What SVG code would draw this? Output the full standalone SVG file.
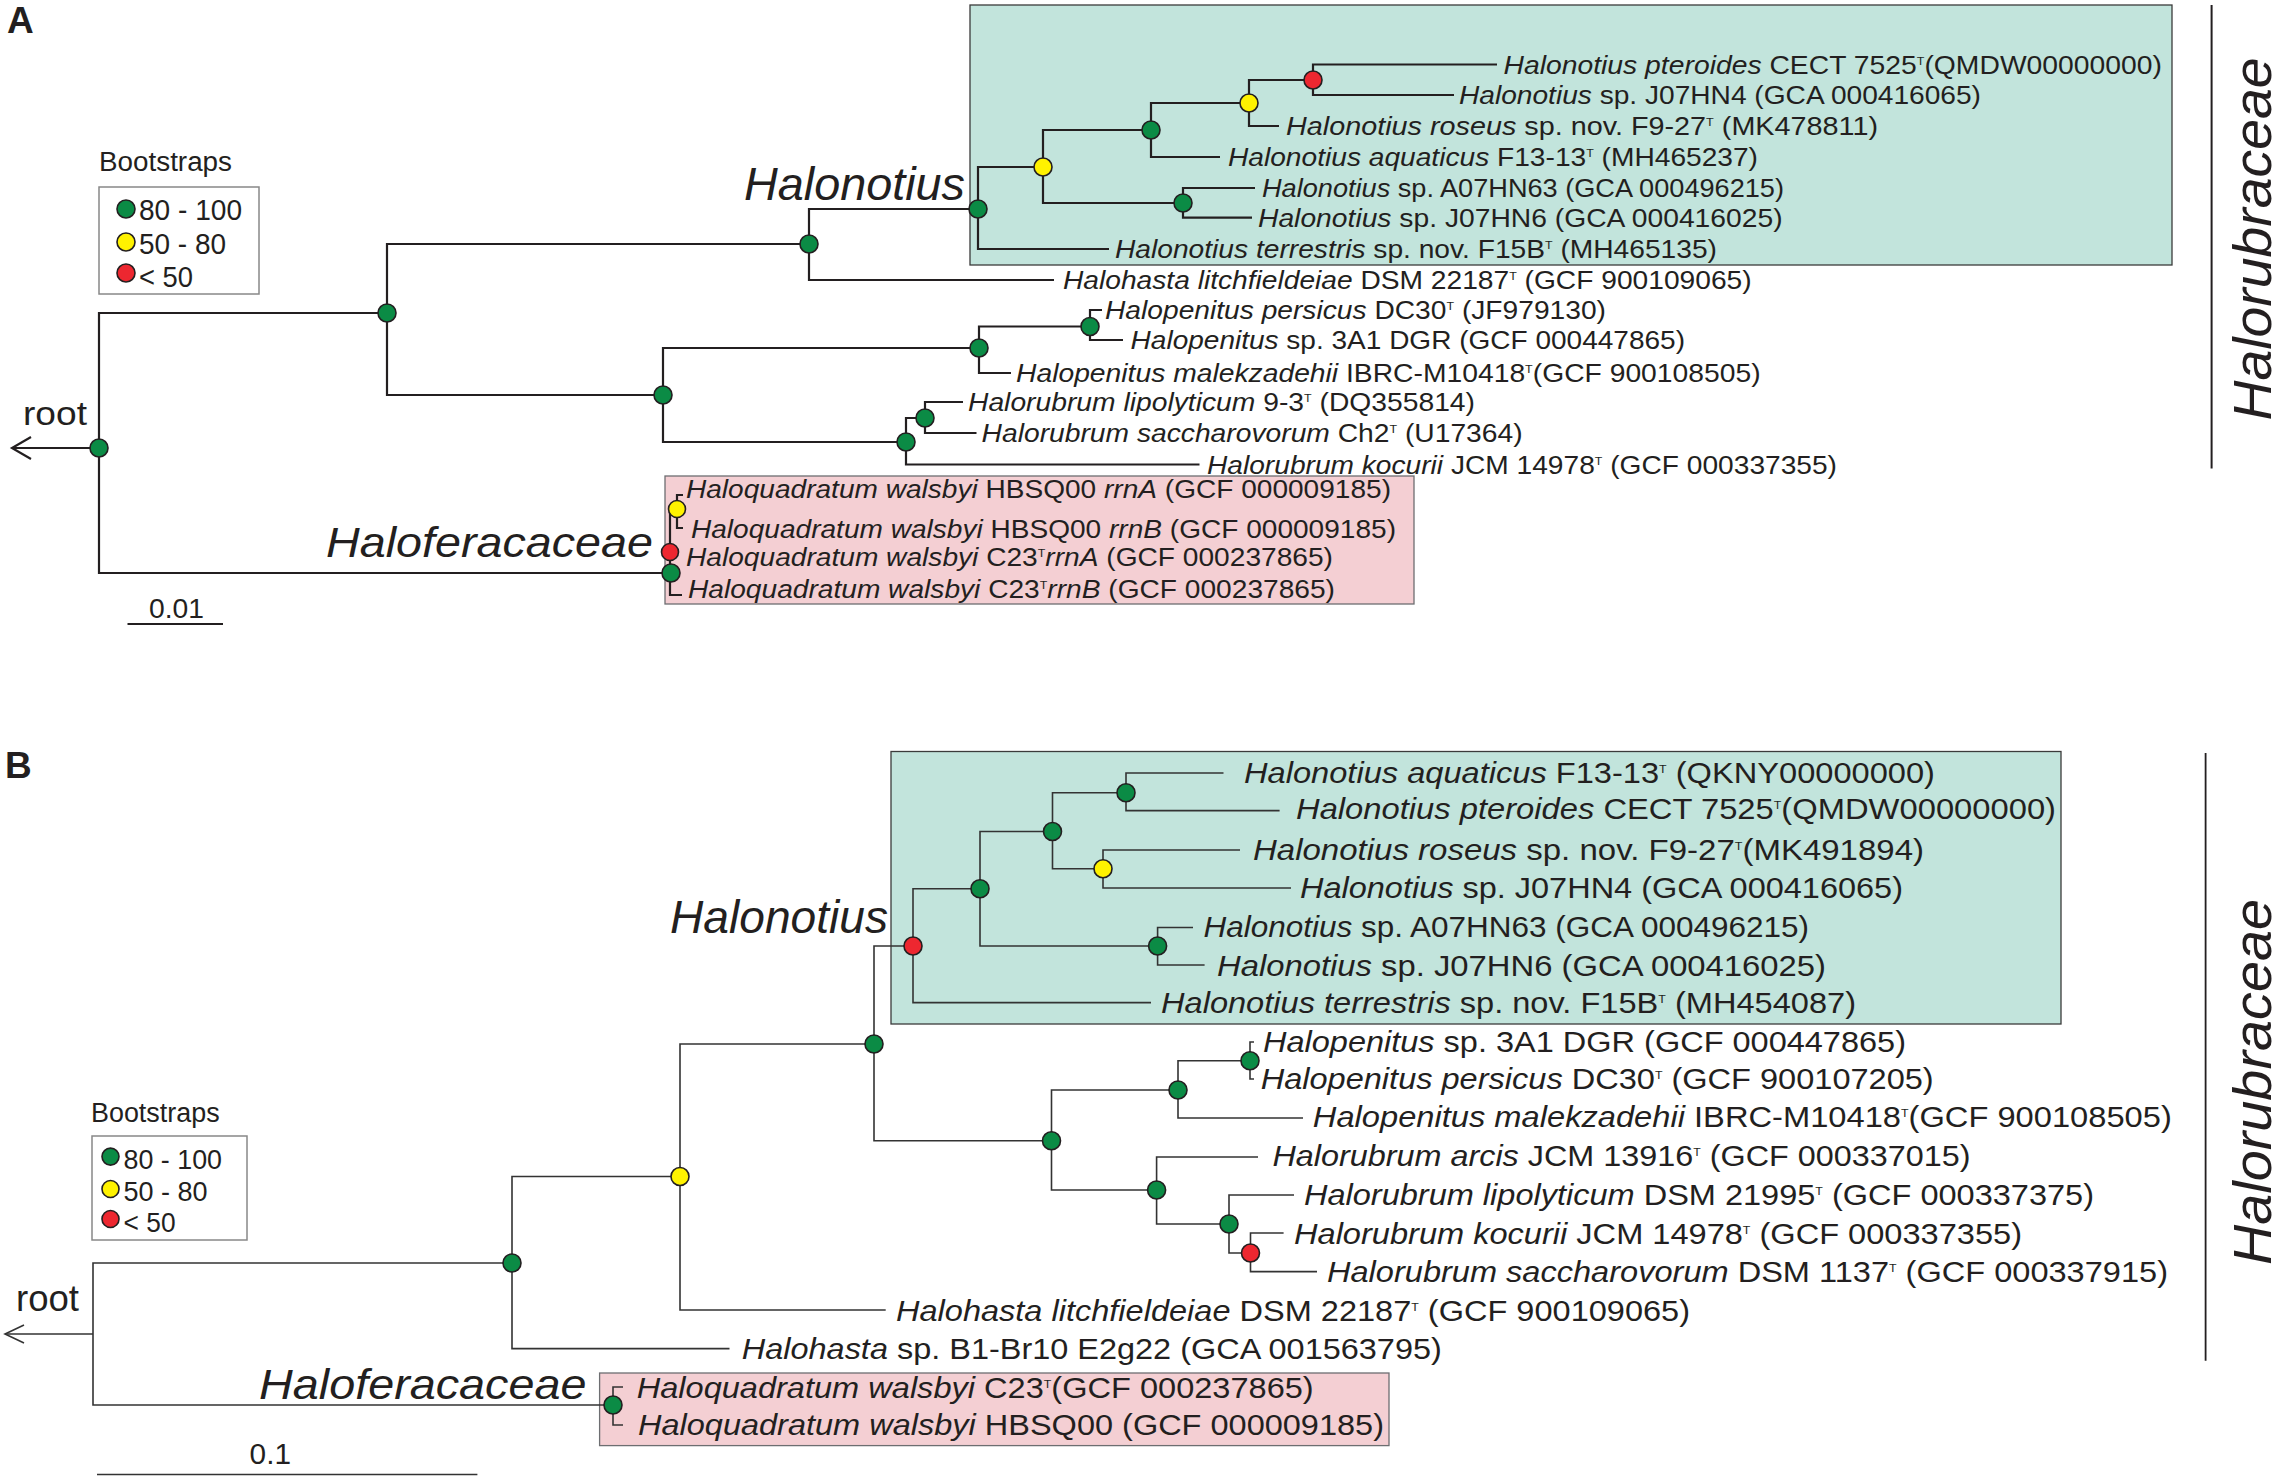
<svg xmlns="http://www.w3.org/2000/svg" width="2283" height="1480" viewBox="0 0 2283 1480">
<style>
.t{font-family:"Liberation Sans",Arial,sans-serif;fill:#231f20}
.la{font-size:25px}
.lb{font-size:29px}
.i{font-style:italic}
.s{font-size:11px}
.ea{fill:none;stroke:#231f20;stroke-width:2.2}
.eb{fill:none;stroke:#333;stroke-width:1.6}
.g{fill:#0b8b45;stroke:#231f20;stroke-width:1.6}
.y{fill:#fff200;stroke:#231f20;stroke-width:1.6}
.r{fill:#ed2730;stroke:#231f20;stroke-width:1.6}
.box{stroke-width:1.3}
</style>
<rect width="2283" height="1480" fill="#fff"/>

<!-- Panel A -->
<g id="panelA">
<text class="t" x="7" y="33" font-size="37" font-weight="bold">A</text>
<rect id="A-teal" class="box" x="970" y="5" width="1202" height="260" fill="#c2e4dc" stroke="#3b3b3b"/>
<rect id="A-pink" class="box" x="665" y="476" width="749" height="128" fill="#f4cfd3" stroke="#6d6e71"/>

<g id="A-legend">
<text class="t" x="99" y="171" font-size="27" textLength="133" lengthAdjust="spacingAndGlyphs">Bootstraps</text>
<rect x="99" y="187" width="160" height="107" fill="#fff" stroke="#888" stroke-width="1.5"/>
<circle class="g" cx="126" cy="209" r="9"/>
<circle class="y" cx="126" cy="242" r="9"/>
<circle class="r" cx="126" cy="273" r="9"/>
<text class="t" x="139" y="220" font-size="29" textLength="103" lengthAdjust="spacingAndGlyphs">80 - 100</text>
<text class="t" x="139" y="254" font-size="29" textLength="87" lengthAdjust="spacingAndGlyphs">50 - 80</text>
<text class="t" x="139" y="287" font-size="29" textLength="54" lengthAdjust="spacingAndGlyphs">&lt; 50</text>
</g>

<g id="A-edges">
<path class="ea" d="M12 448H99"/>
<path class="ea" d="M31 437L12 448L31 459"/>
<path class="ea" d="M387 313H99V573H671"/>
<path class="ea" d="M809 244H387V395H663"/>
<path class="ea" d="M978 209H809V280H1054"/>
<path class="ea" d="M1043 167H978V249H1109"/>
<path class="ea" d="M1151 130H1043V203H1183"/>
<path class="ea" d="M1249 103H1151V157H1220"/>
<path class="ea" d="M1313 80H1249V126H1279"/>
<path class="ea" d="M1497 64.5H1313V95H1454"/>
<path class="ea" d="M1255 188H1183V217.6H1252"/>
<path class="ea" d="M979 348H663V442H906"/>
<path class="ea" d="M1090 326.5H979V373H1011"/>
<path class="ea" d="M1102 310H1090V340H1123"/>
<path class="ea" d="M925 418H906V464.5H1199.5"/>
<path class="ea" d="M963 402H925V433H976.5"/>
<path class="ea" stroke-width="1.6" d="M677 509H670V595H682"/>
<path class="ea" stroke-width="1.6" d="M683 495H677V528H683"/>
<path class="ea" d="M127.5 624H223" stroke-width="2.6"/>
</g>

<g id="A-nodes">
<circle id="A-n-root" class="g" cx="99" cy="448" r="9"/>
<circle id="A-n1" class="g" cx="387" cy="313" r="9"/>
<circle id="A-n2" class="g" cx="809" cy="244" r="9"/>
<circle id="A-n3" class="g" cx="978" cy="209" r="9"/>
<circle id="A-n4" class="y" cx="1043" cy="167" r="9"/>
<circle id="A-n5" class="g" cx="1151" cy="130" r="9"/>
<circle id="A-n6" class="y" cx="1249" cy="103" r="9"/>
<circle id="A-n7" class="r" cx="1313" cy="80" r="9"/>
<circle id="A-n8" class="g" cx="1183" cy="203" r="9"/>
<circle id="A-n9" class="g" cx="663" cy="395" r="9"/>
<circle id="A-n10" class="g" cx="979" cy="348" r="9"/>
<circle id="A-n11" class="g" cx="1090" cy="326.5" r="9"/>
<circle id="A-n12" class="g" cx="906" cy="442" r="9"/>
<circle id="A-n13" class="g" cx="925" cy="418" r="9"/>
<circle id="A-n14" class="y" cx="677" cy="509" r="8.5"/>
<circle id="A-n15" class="r" cx="670" cy="552" r="8.5"/>
<circle id="A-n16" class="g" cx="671" cy="573" r="9"/>
</g>

<g id="A-labels">
<text class="t" x="23" y="425" font-size="34" textLength="64" lengthAdjust="spacingAndGlyphs">root</text>
<text class="t i" x="744" y="200" font-size="46" textLength="221" lengthAdjust="spacingAndGlyphs">Halonotius</text>
<text class="t i" x="326" y="557" font-size="43" textLength="327" lengthAdjust="spacingAndGlyphs">Haloferacaceae</text>
<text class="t" x="149" y="618" font-size="28" textLength="55" lengthAdjust="spacingAndGlyphs">0.01</text>
<path d="M2211.6 5V468.6" stroke="#231f20" stroke-width="2"/>
<text class="t i" transform="translate(2271 420.5) rotate(-90)" font-size="54" textLength="363" lengthAdjust="spacingAndGlyphs">Halorubraceae</text>

<text id="A-l1" class="t la" x="1503.5" y="73.5" textLength="658.5" lengthAdjust="spacingAndGlyphs"><tspan class="i">Halonotius pteroides</tspan> CECT 7525<tspan class="s" dy="-9">T</tspan><tspan dy="9">(QMDW00000000)</tspan></text>
<text id="A-l2" class="t la" x="1459" y="104" textLength="522" lengthAdjust="spacingAndGlyphs"><tspan class="i">Halonotius</tspan> sp. J07HN4 (GCA 000416065)</text>
<text id="A-l3" class="t la" x="1286" y="135" textLength="592" lengthAdjust="spacingAndGlyphs"><tspan class="i">Halonotius roseus</tspan> sp. nov. F9-27<tspan class="s" dy="-9">T</tspan><tspan dy="9"> (MK478811)</tspan></text>
<text id="A-l4" class="t la" x="1228" y="166" textLength="530" lengthAdjust="spacingAndGlyphs"><tspan class="i">Halonotius aquaticus</tspan> F13-13<tspan class="s" dy="-9">T</tspan><tspan dy="9"> (MH465237)</tspan></text>
<text id="A-l5" class="t la" x="1262" y="197" textLength="522" lengthAdjust="spacingAndGlyphs"><tspan class="i">Halonotius</tspan> sp. A07HN63 (GCA 000496215)</text>
<text id="A-l6" class="t la" x="1258" y="226.6" textLength="524.6" lengthAdjust="spacingAndGlyphs"><tspan class="i">Halonotius</tspan> sp. J07HN6 (GCA 000416025)</text>
<text id="A-l7" class="t la" x="1115" y="258" textLength="602" lengthAdjust="spacingAndGlyphs"><tspan class="i">Halonotius terrestris</tspan> sp. nov. F15B<tspan class="s" dy="-9">T</tspan><tspan dy="9"> (MH465135)</tspan></text>
<text id="A-l8" class="t la" x="1063" y="289" textLength="688.6" lengthAdjust="spacingAndGlyphs"><tspan class="i">Halohasta litchfieldeiae</tspan> DSM 22187<tspan class="s" dy="-9">T</tspan><tspan dy="9"> (GCF 900109065)</tspan></text>
<text id="A-l9" class="t la" x="1105" y="319" textLength="501" lengthAdjust="spacingAndGlyphs"><tspan class="i">Halopenitus persicus</tspan> DC30<tspan class="s" dy="-9">T</tspan><tspan dy="9"> (JF979130)</tspan></text>
<text id="A-l10" class="t la" x="1130.6" y="349" textLength="554.4" lengthAdjust="spacingAndGlyphs"><tspan class="i">Halopenitus</tspan> sp. 3A1 DGR (GCF 000447865)</text>
<text id="A-l11" class="t la" x="1016" y="382" textLength="744.6" lengthAdjust="spacingAndGlyphs"><tspan class="i">Halopenitus malekzadehii</tspan> IBRC-M10418<tspan class="s" dy="-9">T</tspan><tspan dy="9">(GCF 900108505)</tspan></text>
<text id="A-l12" class="t la" x="968" y="411" textLength="507" lengthAdjust="spacingAndGlyphs"><tspan class="i">Halorubrum lipolyticum</tspan> 9-3<tspan class="s" dy="-9">T</tspan><tspan dy="9"> (DQ355814)</tspan></text>
<text id="A-l13" class="t la" x="981.6" y="442" textLength="541" lengthAdjust="spacingAndGlyphs"><tspan class="i">Halorubrum saccharovorum</tspan> Ch2<tspan class="s" dy="-9">T</tspan><tspan dy="9"> (U17364)</tspan></text>
<text id="A-l14" class="t la" x="1207" y="473.5" textLength="630" lengthAdjust="spacingAndGlyphs"><tspan class="i">Halorubrum kocurii</tspan> JCM 14978<tspan class="s" dy="-9">T</tspan><tspan dy="9"> (GCF 000337355)</tspan></text>
<text id="A-l15" class="t la" x="686" y="498" textLength="705" lengthAdjust="spacingAndGlyphs"><tspan class="i">Haloquadratum walsbyi</tspan> HBSQ00 <tspan class="i">rrnA</tspan> (GCF 000009185)</text>
<text id="A-l16" class="t la" x="691" y="538" textLength="705" lengthAdjust="spacingAndGlyphs"><tspan class="i">Haloquadratum walsbyi</tspan> HBSQ00 <tspan class="i">rrnB</tspan> (GCF 000009185)</text>
<text id="A-l17" class="t la" x="686" y="566" textLength="647" lengthAdjust="spacingAndGlyphs"><tspan class="i">Haloquadratum walsbyi</tspan> C23<tspan class="s" dy="-9">T</tspan><tspan class="i" dy="9">rrnA</tspan> (GCF 000237865)</text>
<text id="A-l18" class="t la" x="688" y="598" textLength="647" lengthAdjust="spacingAndGlyphs"><tspan class="i">Haloquadratum walsbyi</tspan> C23<tspan class="s" dy="-9">T</tspan><tspan class="i" dy="9">rrnB</tspan> (GCF 000237865)</text>
</g>
</g>

<!-- Panel B -->
<g id="panelB">
<text class="t" x="5" y="778" font-size="37" font-weight="bold">B</text>
<rect id="B-teal" class="box" x="891" y="751.5" width="1170" height="272.5" fill="#c2e4dc" stroke="#3b3b3b"/>
<rect id="B-pink" class="box" x="599.6" y="1373" width="789.4" height="72.6" fill="#f4cfd3" stroke="#6d6e71"/>

<g id="B-legend">
<text class="t" x="91" y="1122" font-size="27" textLength="128.6" lengthAdjust="spacingAndGlyphs">Bootstraps</text>
<rect x="92" y="1136" width="155" height="104" fill="#fff" stroke="#888" stroke-width="1.5"/>
<circle class="g" cx="110.5" cy="1156.6" r="8.5"/>
<circle class="y" cx="110.5" cy="1189" r="8.5"/>
<circle class="r" cx="110.5" cy="1219" r="8.5"/>
<text class="t" x="123.6" y="1168.5" font-size="28" textLength="98.4" lengthAdjust="spacingAndGlyphs">80 - 100</text>
<text class="t" x="123.6" y="1201" font-size="28" textLength="84" lengthAdjust="spacingAndGlyphs">50 - 80</text>
<text class="t" x="123.6" y="1232" font-size="28" textLength="52" lengthAdjust="spacingAndGlyphs">&lt; 50</text>
</g>

<g id="B-edges">
<path class="eb" d="M5 1334H93"/>
<path class="eb" d="M24 1325L5 1334L24 1343"/>
<path class="eb" d="M512 1263H93V1405H613"/>
<path class="eb" d="M680 1176.5H512V1348.6H729.5"/>
<path class="eb" d="M874 1044H680V1310H885.7"/>
<path class="eb" d="M913 946H874V1140.7H1051.5"/>
<path class="eb" d="M980 888.7H913V1002.6H1151"/>
<path class="eb" d="M1052.5 831.5H980V946H1157.6"/>
<path class="eb" d="M1126 792.7H1052.5V868.8H1103"/>
<path class="eb" d="M1223.5 773H1126V810.6H1279.6"/>
<path class="eb" d="M1240 850H1103V888H1291"/>
<path class="eb" d="M1193 927.5H1157.6V965H1204.6"/>
<path class="eb" d="M1178 1090H1051.5V1190H1156.6"/>
<path class="eb" d="M1250 1060.7H1178V1118H1303"/>
<path class="eb" d="M1254 1042H1250V1079H1254"/>
<path class="eb" d="M1258 1157H1156.6V1224H1229"/>
<path class="eb" d="M1294 1195H1229V1253H1250.5"/>
<path class="eb" d="M1283.6 1233H1250.5V1271.6H1317"/>
<path class="eb" d="M623 1387H613V1425H623"/>
<path class="eb" d="M97 1474.5H477.4"/>
</g>

<g id="B-nodes">
<circle id="B-n1" class="g" cx="512" cy="1263" r="9"/>
<circle id="B-n2" class="y" cx="680" cy="1176.5" r="9"/>
<circle id="B-n3" class="g" cx="874" cy="1044" r="9"/>
<circle id="B-n4" class="r" cx="913" cy="946" r="9"/>
<circle id="B-n5" class="g" cx="980" cy="888.7" r="9"/>
<circle id="B-n6" class="g" cx="1052.5" cy="831.5" r="9"/>
<circle id="B-n7" class="g" cx="1126" cy="792.7" r="9"/>
<circle id="B-n8" class="y" cx="1103" cy="868.8" r="9"/>
<circle id="B-n9" class="g" cx="1157.6" cy="946" r="9"/>
<circle id="B-n10" class="g" cx="1051.5" cy="1140.7" r="9"/>
<circle id="B-n11" class="g" cx="1178" cy="1090" r="9"/>
<circle id="B-n12" class="g" cx="1250" cy="1060.7" r="9"/>
<circle id="B-n13" class="g" cx="1156.6" cy="1190" r="9"/>
<circle id="B-n14" class="g" cx="1229" cy="1224" r="9"/>
<circle id="B-n15" class="r" cx="1250.5" cy="1253" r="9"/>
<circle id="B-n16" class="g" cx="613" cy="1405" r="9"/>
</g>

<g id="B-labels">
<text class="t" x="16" y="1311" font-size="36" textLength="63" lengthAdjust="spacingAndGlyphs">root</text>
<text class="t i" x="670" y="933" font-size="47" textLength="218" lengthAdjust="spacingAndGlyphs">Halonotius</text>
<text class="t i" x="259" y="1399" font-size="43" textLength="327.5" lengthAdjust="spacingAndGlyphs">Haloferacaceae</text>
<text class="t" x="249.6" y="1463.5" font-size="29" textLength="41.4" lengthAdjust="spacingAndGlyphs">0.1</text>
<path d="M2205.6 753V1360.8" stroke="#231f20" stroke-width="1.8"/>
<text class="t i" transform="translate(2271 1265) rotate(-90)" font-size="54" textLength="366" lengthAdjust="spacingAndGlyphs">Halorubraceae</text>

<text id="B-l1" class="t lb" x="1244" y="783" textLength="691" lengthAdjust="spacingAndGlyphs"><tspan class="i">Halonotius aquaticus</tspan> F13-13<tspan class="s" dy="-10">T</tspan><tspan dy="10"> (QKNY00000000)</tspan></text>
<text id="B-l2" class="t lb" x="1296" y="819" textLength="760" lengthAdjust="spacingAndGlyphs"><tspan class="i">Halonotius pteroides</tspan> CECT 7525<tspan class="s" dy="-10">T</tspan><tspan dy="10">(QMDW00000000)</tspan></text>
<text id="B-l3" class="t lb" x="1253" y="860" textLength="671" lengthAdjust="spacingAndGlyphs"><tspan class="i">Halonotius roseus</tspan> sp. nov. F9-27<tspan class="s" dy="-10">T</tspan><tspan dy="10">(MK491894)</tspan></text>
<text id="B-l4" class="t lb" x="1300" y="898" textLength="603" lengthAdjust="spacingAndGlyphs"><tspan class="i">Halonotius</tspan> sp. J07HN4 (GCA 000416065)</text>
<text id="B-l5" class="t lb" x="1203.6" y="937" textLength="605.4" lengthAdjust="spacingAndGlyphs"><tspan class="i">Halonotius</tspan> sp. A07HN63 (GCA 000496215)</text>
<text id="B-l6" class="t lb" x="1217" y="976" textLength="609" lengthAdjust="spacingAndGlyphs"><tspan class="i">Halonotius</tspan> sp. J07HN6 (GCA 000416025)</text>
<text id="B-l7" class="t lb" x="1161" y="1013" textLength="695" lengthAdjust="spacingAndGlyphs"><tspan class="i">Halonotius terrestris</tspan> sp. nov. F15B<tspan class="s" dy="-10">T</tspan><tspan dy="10"> (MH454087)</tspan></text>
<text id="B-l8" class="t lb" x="1263" y="1052" textLength="643" lengthAdjust="spacingAndGlyphs"><tspan class="i">Halopenitus</tspan> sp. 3A1 DGR (GCF 000447865)</text>
<text id="B-l9" class="t lb" x="1260.7" y="1089" textLength="673" lengthAdjust="spacingAndGlyphs"><tspan class="i">Halopenitus persicus</tspan> DC30<tspan class="s" dy="-10">T</tspan><tspan dy="10"> (GCF 900107205)</tspan></text>
<text id="B-l10" class="t lb" x="1312.8" y="1127" textLength="859" lengthAdjust="spacingAndGlyphs"><tspan class="i">Halopenitus malekzadehii</tspan> IBRC-M10418<tspan class="s" dy="-10">T</tspan><tspan dy="10">(GCF 900108505)</tspan></text>
<text id="B-l11" class="t lb" x="1272.5" y="1166" textLength="698" lengthAdjust="spacingAndGlyphs"><tspan class="i">Halorubrum arcis</tspan> JCM 13916<tspan class="s" dy="-10">T</tspan><tspan dy="10"> (GCF 000337015)</tspan></text>
<text id="B-l12" class="t lb" x="1304" y="1204.7" textLength="790" lengthAdjust="spacingAndGlyphs"><tspan class="i">Halorubrum lipolyticum</tspan> DSM 21995<tspan class="s" dy="-10">T</tspan><tspan dy="10"> (GCF 000337375)</tspan></text>
<text id="B-l13" class="t lb" x="1294" y="1243.5" textLength="728" lengthAdjust="spacingAndGlyphs"><tspan class="i">Halorubrum kocurii</tspan> JCM 14978<tspan class="s" dy="-10">T</tspan><tspan dy="10"> (GCF 000337355)</tspan></text>
<text id="B-l14" class="t lb" x="1327" y="1282" textLength="841" lengthAdjust="spacingAndGlyphs"><tspan class="i">Halorubrum saccharovorum</tspan> DSM 1137<tspan class="s" dy="-10">T</tspan><tspan dy="10"> (GCF 000337915)</tspan></text>
<text id="B-l15" class="t lb" x="896" y="1321" textLength="794" lengthAdjust="spacingAndGlyphs"><tspan class="i">Halohasta litchfieldeiae</tspan> DSM 22187<tspan class="s" dy="-10">T</tspan><tspan dy="10"> (GCF 900109065)</tspan></text>
<text id="B-l16" class="t lb" x="741.8" y="1359" textLength="700" lengthAdjust="spacingAndGlyphs"><tspan class="i">Halohasta</tspan> sp. B1-Br10 E2g22 (GCA 001563795)</text>
<text id="B-l17" class="t lb" x="636.7" y="1397.6" textLength="677" lengthAdjust="spacingAndGlyphs"><tspan class="i">Haloquadratum walsbyi</tspan> C23<tspan class="s" dy="-10">T</tspan><tspan dy="10">(GCF 000237865)</tspan></text>
<text id="B-l18" class="t lb" x="638" y="1435" textLength="746" lengthAdjust="spacingAndGlyphs"><tspan class="i">Haloquadratum walsbyi</tspan> HBSQ00 (GCF 000009185)</text>
</g>
</g>
</svg>
